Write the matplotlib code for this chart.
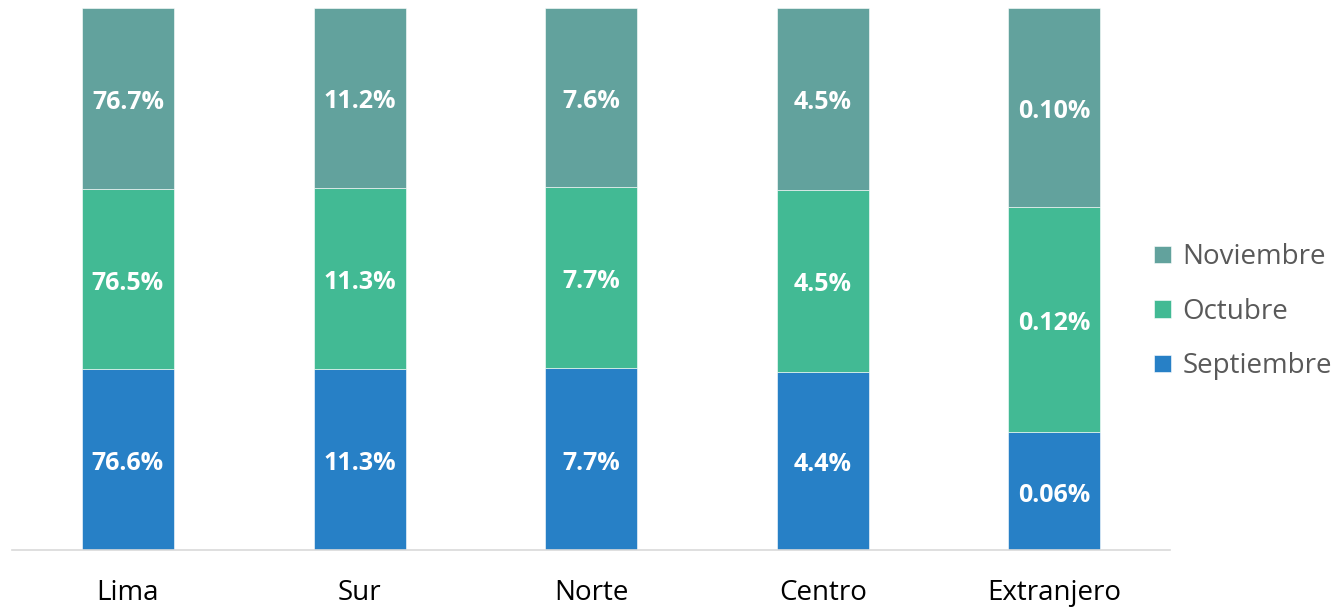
import matplotlib
matplotlib.use("Agg")
import matplotlib.pyplot as plt
import numpy as np

plt.rcParams["font.family"] = ["Open Sans", "DejaVu Sans"]

regiones = ["Lima", "Sur", "Norte", "Centro", "Extranjero"]
meses = ["Septiembre", "Octubre", "Noviembre"]
# porcentajes por mes (Extranjero estimado con mas decimales a partir de las barras)
septiembre = [76.6, 11.3, 7.7, 4.4, 0.061]
octubre = [76.5, 11.3, 7.7, 4.5, 0.117]
noviembre = [76.7, 11.2, 7.6, 4.5, 0.103]
etiquetas = {
    "Septiembre": ["76.6%", "11.3%", "7.7%", "4.4%", "0.06%"],
    "Octubre": ["76.5%", "11.3%", "7.7%", "4.5%", "0.12%"],
    "Noviembre": ["76.7%", "11.2%", "7.6%", "4.5%", "0.10%"],
}
colores = {"Septiembre": "#2780C6", "Octubre": "#42BA94", "Noviembre": "#62A29D"}

series = {"Septiembre": septiembre, "Octubre": octubre, "Noviembre": noviembre}
total = np.array(septiembre) + np.array(octubre) + np.array(noviembre)

fig = plt.figure(figsize=(13.42, 6.09), dpi=100)
ax = fig.add_axes([0.009, 0.097, 0.863, 0.89])

x = np.arange(len(regiones))
base = np.zeros(len(regiones))
for mes in meses:
    frac = np.array(series[mes]) / total
    bars = ax.bar(x, frac, bottom=base, width=0.397, color=colores[mes],
                  edgecolor="white", linewidth=0.4, label=mes)
    anns = ax.bar_label(bars, labels=etiquetas[mes], label_type="center",
                        color="white", fontsize=18, fontweight="bold")
    for a in anns:
        a.xyann = (0, -2.9)
    base += frac

ax.set_xlim(-0.5, 4.5)
ax.set_ylim(0, 1)
ax.set_xticks(x, regiones, fontsize=20, color="black")
ax.tick_params(axis="x", length=0, pad=21)
ax.set_yticks([])
for s in ["top", "left", "right"]:
    ax.spines[s].set_visible(False)
ax.spines["bottom"].set_color("#D9D9D9")
ax.spines["bottom"].set_linewidth(1.2)

h, l = ax.get_legend_handles_labels()
leg = fig.legend(h[::-1], l[::-1], loc="center left",
                 bbox_to_anchor=(0.8416, 0.488), frameon=False,
                 fontsize=20, labelcolor="#595959",
                 handlelength=0.6, handleheight=0.6, handletextpad=0.4,
                 labelspacing=0.95)

fig.savefig("out.png", dpi=100)
